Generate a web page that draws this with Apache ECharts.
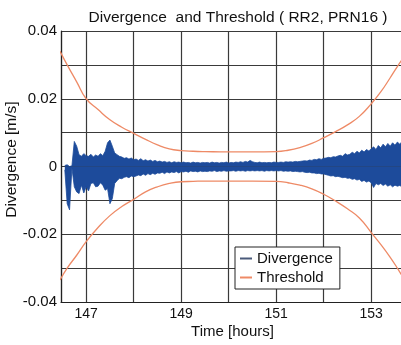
<!DOCTYPE html>
<html><head><meta charset="utf-8">
<script src="https://cdn.jsdelivr.net/npm/echarts@6/dist/echarts.min.js"></script>
<style>html,body{margin:0;padding:0;background:#fff}#c{width:401px;height:345px}</style>
</head><body><div id="c"></div><script>
const thrTime=[146.45,146.6,146.8,147.0,147.25,147.5,147.75,148.0,148.25,148.5,148.75,149.0,149.25,149.5,150,150.5,151,151.25,151.5,151.75,152,152.25,152.5,152.75,153,153.2,153.4,153.55,153.7];
const thrUpper=[0.0340,0.0300,0.0250,0.0200,0.0168,0.0138,0.0116,0.0098,0.0080,0.0064,0.0052,0.0047,0.0045,0.0044,0.0043,0.0043,0.0044,0.0048,0.0056,0.0068,0.0085,0.0103,0.0123,0.0148,0.0185,0.0220,0.0262,0.0295,0.0325];
const thrLower=[-0.0335,-0.0300,-0.0262,-0.0222,-0.0180,-0.0145,-0.0118,-0.0097,-0.0075,-0.0060,-0.0050,-0.0045,-0.0044,-0.0043,-0.0043,-0.0043,-0.0044,-0.0048,-0.0055,-0.0066,-0.0082,-0.0102,-0.0125,-0.0152,-0.0195,-0.0230,-0.0268,-0.0300,-0.0335];

const divTime=[
146.55,146.60,146.65,146.70,146.75,146.80,146.85,146.90,146.95,147.00,
147.05,147.10,147.15,147.20,147.25,147.30,147.35,147.40,147.45,147.50,
147.55,147.60,147.65,147.70,147.75,147.80,147.85,147.90,147.95,148.00,
148.05,148.10,148.15,148.20,148.25,148.30,148.35,148.40,148.45,148.50,
148.55,148.60,148.65,148.70,148.75,148.80,148.85,148.90,148.95,149.00,
149.05,149.10,149.15,149.20,149.25,149.30,149.35,149.40,149.45,149.50,
149.55,149.60,149.65,149.70,149.75,149.80,149.85,149.90,149.95,150.00,
150.05,150.10,150.15,150.20,150.25,150.30,150.35,150.40,150.45,150.50,
150.55,150.60,150.65,150.70,150.75,150.80,150.85,150.90,150.95,151.00,
151.05,151.10,151.15,151.20,151.25,151.30,151.35,151.40,151.45,151.50,
151.55,151.60,151.65,151.70,151.75,151.80,151.85,151.90,151.95,152.00,
152.05,152.10,152.15,152.20,152.25,152.30,152.35,152.40,152.45,152.50,
152.55,152.60,152.65,152.70,152.75,152.80,152.85,152.90,152.95,153.00,
153.05,153.10,153.15,153.20,153.25,153.30,153.35,153.40,153.45,153.50,153.55,153.60,153.65,153.70];
const divHigh=[
0.0003,0.0005,0.0000,0.0002,0.0074,0.0060,0.0035,0.0030,0.0038,0.0032,
0.0030,0.0036,0.0028,0.0034,0.0030,0.0038,0.0032,0.0045,0.0070,0.0078,
0.0060,0.0040,0.0035,0.0030,0.0028,0.0024,0.0026,0.0022,0.0025,0.0020,
0.0022,0.0018,0.0023,0.0017,0.0020,0.0016,0.0019,0.0015,0.0018,0.0014,
0.0016,0.0013,0.0015,0.0012,0.0014,0.0011,0.0014,0.0012,0.0013,0.0011,
0.0013,0.0011,0.0012,0.0010,0.0013,0.0011,0.0012,0.0010,0.0012,0.0011,
0.0012,0.0010,0.0013,0.0011,0.0012,0.0010,0.0012,0.0011,0.0013,0.0010,
0.0012,0.0011,0.0013,0.0012,0.0014,0.0012,0.0015,0.0013,0.0018,0.0014,
0.0012,0.0011,0.0013,0.0011,0.0012,0.0011,0.0012,0.0011,0.0013,0.0012,
0.0012,0.0013,0.0012,0.0014,0.0013,0.0014,0.0013,0.0015,0.0014,0.0015,
0.0016,0.0017,0.0016,0.0019,0.0018,0.0021,0.0020,0.0023,0.0021,0.0024,
0.0025,0.0027,0.0026,0.0029,0.0028,0.0031,0.0033,0.0030,0.0038,0.0034,
0.0036,0.0042,0.0038,0.0045,0.0040,0.0048,0.0043,0.0050,0.0046,0.0052,
0.0058,0.0050,0.0062,0.0055,0.0066,0.0058,0.0068,0.0060,0.0070,0.0063,0.0072,0.0066,0.0074,0.0068];
const divLow=[
-0.0010,-0.0110,-0.0128,-0.0005,-0.0060,-0.0075,-0.0080,-0.0055,-0.0078,-0.0060,
-0.0072,-0.0050,-0.0048,-0.0060,-0.0058,-0.0048,-0.0055,-0.0070,-0.0065,-0.0110,
-0.0095,-0.0050,-0.0042,-0.0035,-0.0036,-0.0032,-0.0030,-0.0033,-0.0028,-0.0030,
-0.0028,-0.0025,-0.0027,-0.0022,-0.0026,-0.0021,-0.0024,-0.0020,-0.0023,-0.0019,
-0.0020,-0.0017,-0.0021,-0.0016,-0.0019,-0.0016,-0.0018,-0.0015,-0.0019,-0.0015,
-0.0016,-0.0014,-0.0017,-0.0013,-0.0015,-0.0014,-0.0016,-0.0013,-0.0015,-0.0014,
-0.0015,-0.0013,-0.0014,-0.0012,-0.0015,-0.0013,-0.0014,-0.0012,-0.0014,-0.0013,
-0.0013,-0.0012,-0.0014,-0.0012,-0.0013,-0.0012,-0.0014,-0.0012,-0.0013,-0.0012,
-0.0013,-0.0012,-0.0013,-0.0012,-0.0014,-0.0012,-0.0013,-0.0012,-0.0013,-0.0012,
-0.0013,-0.0012,-0.0014,-0.0013,-0.0014,-0.0013,-0.0015,-0.0014,-0.0015,-0.0016,
-0.0015,-0.0017,-0.0018,-0.0017,-0.0019,-0.0019,-0.0021,-0.0020,-0.0022,-0.0022,
-0.0024,-0.0026,-0.0028,-0.0027,-0.0030,-0.0029,-0.0031,-0.0033,-0.0032,-0.0035,
-0.0034,-0.0038,-0.0036,-0.0040,-0.0038,-0.0044,-0.0041,-0.0046,-0.0043,-0.0048,
-0.0062,-0.0050,-0.0054,-0.0050,-0.0056,-0.0052,-0.0058,-0.0054,-0.0060,-0.0055,-0.0058,-0.0056,-0.0060,-0.0057];

const xTickLabels=['147','149','151','153'];
const yTickLabels=['0.04','0.02','0','-0.02','-0.04'];

const FONT='"Liberation Sans", Arial, sans-serif';
const BLUE='#1d4b9b';
const ORANGE='#ee8a66';
const GRID='#3a3a3a';

const zip=(a,b)=>a.map((t,i)=>[t,b[i]]);

const chart=echarts.init(document.getElementById('c'),null,{renderer:'canvas'});
chart.setOption({
  animation:false,
  backgroundColor:'#fff',
  textStyle:{fontFamily:FONT,color:'#111'},
  title:{text:'Divergence  and Threshold ( RR2, PRN16 )',left:233,top:5,textAlign:'center',
    textStyle:{fontFamily:FONT,fontSize:15.5,fontWeight:'normal',color:'#111'}},
  grid:{left:61,top:31,right:-3,bottom:43,containLabel:false,outerBoundsMode:'none'},
  legend:{
    orient:'vertical',left:235,top:247,
    backgroundColor:'#fff',borderColor:'#222',borderWidth:1,
    padding:[4,7,4,5],itemGap:4,itemWidth:12,itemHeight:2,icon:'rect',
    textStyle:{fontFamily:FONT,fontSize:15,color:'#111'},
    data:[{name:'Divergence',itemStyle:{color:'#4a5a7a'}},{name:'Threshold',itemStyle:{color:ORANGE}}]
  },
  xAxis:{
    type:'value',min:146.47,max:153.69,splitNumber:7,
    name:'Time [hours]',nameLocation:'middle',nameGap:22,nameMoveOverlap:false,
    nameTextStyle:{fontFamily:FONT,fontSize:15,color:'#111'},
    axisLine:{show:true,onZero:false,lineStyle:{color:'#222',width:1.2}},
    axisTick:{show:false},
    splitLine:{show:true,lineStyle:{color:GRID,width:1.2}},
    axisLabel:{fontFamily:FONT,fontSize:14,color:'#111',margin:5,
      formatter:v=>{const s=String(Math.round(v*100)/100);return xTickLabels.includes(s)?s:'';}}
  },
  yAxis:{
    type:'value',min:-0.04,max:0.04,interval:0.01,
    name:'Divergence [m/s]',nameLocation:'middle',nameGap:41,nameMoveOverlap:false,
    nameTextStyle:{fontFamily:FONT,fontSize:15.5,color:'#111',padding:[0,0,0,14]},
    axisLine:{show:true,lineStyle:{color:'#222',width:1.2}},
    axisTick:{show:false},
    splitLine:{show:true,lineStyle:{color:GRID,width:1.2}},
    axisLabel:{fontFamily:FONT,fontSize:15,color:'#111',margin:4,
      formatter:v=>{const s=Math.abs(v)<1e-9?'0':String(+v.toFixed(2));return yTickLabels.includes(s)?s:'';}}
  },
  series:[
    {name:'Divergence',type:'line',data:zip(divTime,divHigh),showSymbol:false,symbol:'none',
      lineStyle:{color:BLUE,width:0.8},itemStyle:{color:'#4a5a7a'},areaStyle:{color:BLUE,opacity:1},z:2},
    {name:'Divergence',type:'line',data:zip(divTime,divLow),showSymbol:false,symbol:'none',
      lineStyle:{color:BLUE,width:0.8},itemStyle:{color:'#4a5a7a'},areaStyle:{color:BLUE,opacity:1},z:2},
    {name:'Threshold',type:'line',data:zip(thrTime,thrUpper),smooth:true,showSymbol:false,symbol:'none',
      lineStyle:{color:ORANGE,width:1.3},itemStyle:{color:ORANGE},z:3},
    {name:'Threshold',type:'line',data:zip(thrTime,thrLower),smooth:true,showSymbol:false,symbol:'none',
      lineStyle:{color:ORANGE,width:1.3},itemStyle:{color:ORANGE},z:3}
  ]
});
</script></body></html>
